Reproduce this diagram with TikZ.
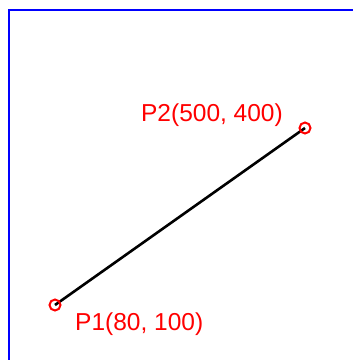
\documentclass[tikz,border=0pt]{standalone}
\usepackage{fontspec}
\setmainfont{Liberation Sans}
\usepackage{xcolor}
\usepackage{tikz}
\usetikzlibrary{positioning}
\tikzset{
  frameline/.style={
    draw=blue,
    line width=2pt
  },
  pointmark/.style={
    circle,
    draw=red,
    line width=2pt,
    minimum size=11pt,
    inner sep=0pt
  },
  pointlabel/.style={
    text=red,
    inner sep=0pt,
    anchor=base west,
    font=\fontsize{24.5}{29}\selectfont
  },
  segment/.style={
    draw=black,
    line width=2.6pt
  }
}
\begin{document}
\begin{tikzpicture}[x=1pt,y=-1pt]

\useasboundingbox (0,0) rectangle (353,360);
\fill[white] (0,0) rectangle (353,360);

% frame
\coordinate (fb) at (9,360);
\coordinate (fc) at (9,9.5);
\coordinate (fr) at (353,9.5);
\draw[frameline] (fb) -- (fc) -- (fr);

% points
\coordinate (p1) at (55,305);
\coordinate (p2) at (305,128);

\draw[segment] (p1) -- (p2);

\node[pointmark] (m1) at (p1) {};
\node[pointmark] (m2) at (p2) {};

\node[pointlabel] (l1) at (75,330) {P1(80, 100)};
\node[pointlabel, anchor=base east] (l2) at (283,121) {P2(500, 400)};

\end{tikzpicture}
\end{document}
